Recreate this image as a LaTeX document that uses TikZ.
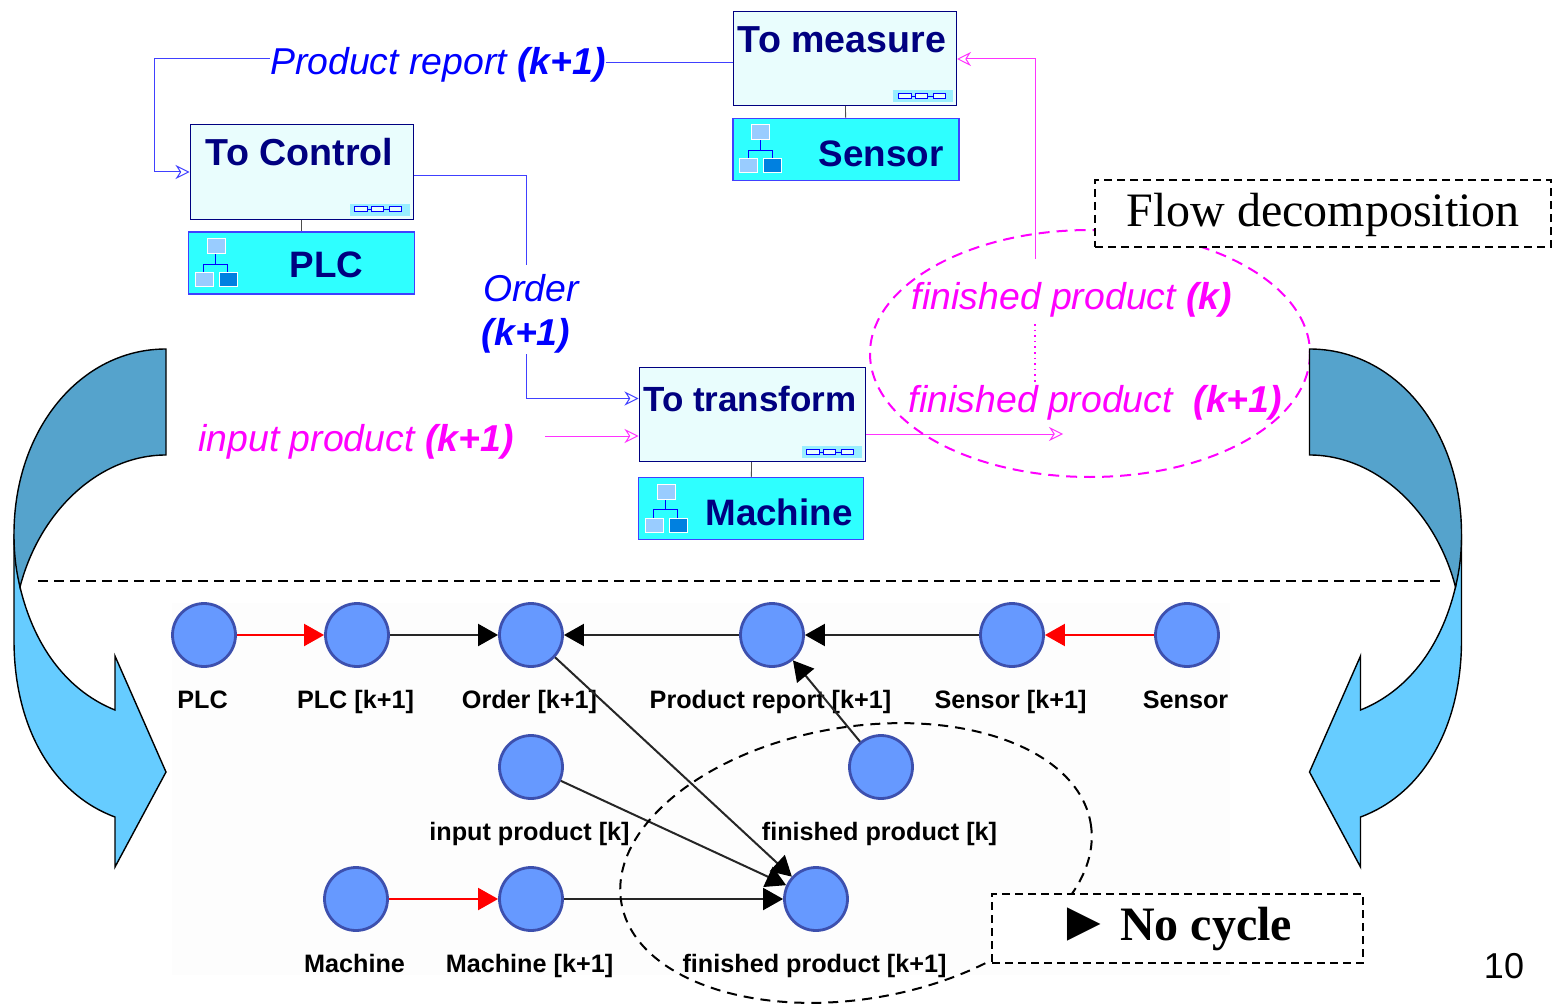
\documentclass[tikz,border=0pt]{standalone}
\usepackage{fontspec}
\setmainfont{Liberation Serif}
\setsansfont{Liberation Sans}
\usetikzlibrary{arrows.meta, positioning}
\definecolor{boxnavy}{HTML}{000080}
\definecolor{taskfill}{HTML}{E9FDFD}
\definecolor{resfill}{HTML}{2EFFFF}
\definecolor{lineblue}{HTML}{4040FF}
\definecolor{linepink}{HTML}{FF33FF}
\definecolor{fullpink}{HTML}{FF00FF}
\definecolor{vertexfill}{HTML}{6699FF}
\definecolor{vertexline}{HTML}{3D50AE}
\definecolor{arrowdark}{HTML}{55A3CC}
\definecolor{arrowlight}{HTML}{66CCFF}
\definecolor{iconlight}{HTML}{99CCFF}
\definecolor{icondark}{HTML}{0080E0}
\definecolor{badgefill}{HTML}{99EEFF}
\definecolor{graphback}{HTML}{FDFDFD}
\begin{document}
\begin{tikzpicture}[x=0.5pt, y=-0.5pt, on grid, semithick]
      \tikzstyle{taskbox}=[draw=boxnavy, line width=0.5pt, fill=taskfill, inner sep=0pt, minimum width=111.5pt, text=boxnavy, text height=20.5pt, text depth=26.5pt, font=\sffamily\bfseries\fontsize{18.8pt}{20pt}\selectfont]
      \tikzstyle{resbox}=[draw=lineblue, fill=resfill, inner sep=0pt, minimum width=113pt, text=boxnavy, text height=24pt, text depth=7pt, font=\sffamily\bfseries\fontsize{18.4pt}{20pt}\selectfont]
      \tikzstyle{link}=[draw=black!70, thin]
      \tikzstyle{blueline}=[draw=lineblue, line width=0.5pt]
      \tikzstyle{pinkline}=[draw=linepink, line width=0.5pt]
      \tikzstyle{opentip}=[-{Stealth[open, length=7pt, width=7pt]}]
      \tikzstyle{bluetext}=[text=blue, inner sep=0pt, font=\sffamily\itshape\fontsize{18.7pt}{22pt}\selectfont]
      \tikzstyle{pinktext}=[text=fullpink, inner sep=0pt, font=\sffamily\itshape\fontsize{18.7pt}{22pt}\selectfont]
      \tikzstyle{vertex}=[circle, draw=vertexline, fill=vertexfill, line width=1.4pt, minimum size=31.5pt, inner sep=0pt]
      \tikzstyle{vlabel}=[text=black, inner sep=0pt, xshift=-0.75pt, text height=10pt, text depth=1pt, font=\sffamily\bfseries\fontsize{12.6pt}{14pt}\selectfont]
      \tikzstyle{edgeblack}=[draw=black!85, line width=1pt, -{Triangle[black, length=10pt, width=11pt]}]
      \tikzstyle{edgered}=[draw=red, line width=1pt, -{Triangle[length=10pt, width=11pt]}]
      \tikzstyle{dashbox}=[draw=black, fill=white, line width=0.9pt, dash pattern=on 4pt off 2.5pt, inner sep=0pt, text height=17pt, font=\fontsize{24pt}{26pt}\selectfont]
      \tikzset{
        treeicon/.pic={
          \draw[blue, line width=0.5pt] (28,22) -- (28,33) (16,41) -- (16,33) -- (40,33) -- (40,41);
          \filldraw[draw=white, fill=iconlight, line width=0.4pt] (19,7) rectangle (37,22);
          \filldraw[draw=white, fill=iconlight, line width=0.4pt] (7,41) rectangle (25,55);
          \filldraw[draw=white, fill=icondark, line width=0.4pt] (31,41) rectangle (49,55);
        },
        chainbadge/.pic={
          \fill[badgefill] (-64,-16) rectangle (-4,-4);
          \draw[blue, line width=0.4pt] (-46,-10) -- (-12,-10);
          \filldraw[draw=blue, fill=taskfill, line width=0.4pt] (-59,-13) rectangle (-46,-8);
          \filldraw[draw=blue, fill=taskfill, line width=0.4pt] (-42,-13) rectangle (-30,-8);
          \filldraw[draw=blue, fill=taskfill, line width=0.4pt] (-24,-13) rectangle (-12,-8);
        },
        bigarrow/.pic={
          \filldraw[draw=black, fill=arrowlight, line width=0.7pt] (20,587) .. controls (35,650) and (70,692) .. (115,710) -- (115,656) -- (166,772) -- (115,867) -- (115,817) .. controls (55,795) and (14,730) .. (14,640) -- (14,534) -- cycle;
          \filldraw[draw=black, fill=arrowdark, line width=0.7pt] (166,349) .. controls (80,349) and (14,430) .. (14,534) .. controls (14,555) and (16,570) .. (20,587) .. controls (40,510) and (100,455) .. (166,455) -- cycle;
        }
      }
      \useasboundingbox (0,0) rectangle (1559,1006);
      % graph background
      \fill[graphback] (172,603) rectangle (1230,975);
      % top part
      \node[taskbox] (tomeasure) at (845,58.5) {To measure\hspace*{3pt}};
      \node[resbox] (sensorres) [below right = 45.5pt and 0.5pt of tomeasure] {\hspace*{35pt}Sensor};
      \node[taskbox] (tocontrol) at (301.5,172) {To Control\hspace*{2pt}};
      \node[resbox, text height=23pt, text depth=8pt] (plcres) [below = 45.5pt of tocontrol] {\hspace*{25pt}PLC};
      \node[taskbox, text height=22pt, text depth=25pt, minimum width=113pt, font=\sffamily\bfseries\fontsize{17.5pt}{20pt}\selectfont] (totransform) at (752,414.5) {To transform\hspace*{2pt}};
      \node[resbox, minimum width=112.5pt] (machineres) [below left = 47pt and 0.5pt of totransform] {\hspace*{28pt}Machine};
      \pic at (tomeasure.south east) {chainbadge};
      \pic at (tocontrol.south east) {chainbadge};
      \pic at (totransform.south east) {chainbadge};
      \pic at (sensorres.north west) {treeicon};
      \pic at (plcres.north west) {treeicon};
      \pic at (machineres.north west) {treeicon};
      \draw[link] (tomeasure) -- (sensorres);
      \draw[link] (tocontrol) -- (plcres);
      \draw[link] (totransform) -- (machineres);
      \node[bluetext] (report) at (438,65) {Product report \textbf{(k+1)}};
      \node[bluetext, align=center] (order) at (526,314) {\hspace*{5pt}Order\\\textbf{(k+1)}};
      \node[pinktext] (inputlabel) at (356,442) {input product \textbf{(k+1)}};
      \node[pinktext] (finishedlabel) at (1072,300) {finished product \textbf{(k)}};
      \node[pinktext] (finishednextlabel) at (1095.5,403) {finished product\ \ \textbf{(k+1)}};
      \coordinate (reportbend) at (154,172);
      \coordinate (inputstart) at (545,436);
      \coordinate (outputend) at (1063,434);
      \coordinate (pinkbend) at (1035,59);
      \coordinate (pinkstart) at (1035,259);
      \coordinate (dotstart) at (1035,324);
      \coordinate (dotend) at (1035,382);
      \draw[blueline] ([yshift=1pt]report.east) -- ([yshift=1pt]tomeasure.west |- report.east);
      \draw[blueline, opentip] ([yshift=3pt]report.west) -| (reportbend) -- (tocontrol.west);
      \draw[blueline] ([yshift=-2pt]tocontrol.east) -| ([yshift=4.5pt]order.north);
      \draw[blueline, opentip] (order.south) |- ([yshift=8pt]totransform.west);
      \draw[pinkline, opentip] (inputstart) -- (inputstart -| totransform.west);
      \draw[pinkline, opentip] (totransform.east |- outputend) -- (outputend);
      \draw[pinkline, opentip] (pinkstart) |- (pinkbend) -- (tomeasure.east |- pinkbend);
      \draw[fullpink, line width=0.8pt, dotted] (dotstart) -- (dotend);
      % flow ellipse
      \draw[fullpink, line width=1pt, dash pattern=on 5.5pt off 3.5pt] (1090,353.5) ellipse (220 and 123.5);
      \node[dashbox, text depth=3.9pt, minimum width=228pt, minimum height=33.5pt] (flowbox) at (1323,213.5) {Flow decomposition};
      % curved arrows
      \pic at (0,0) {bigarrow};
      \pic[xscale=-1] at (1475.5,0) {bigarrow};
      \draw[black, line width=0.7pt, dash pattern=on 5pt off 3pt] (38,581) -- (1440,581);
      % graph
      \node[vertex] (vplc) at (204,635) {};
      \node[vertex] (vplcnext) [right = 76.5pt of vplc] {};
      \node[vertex] (vorder) [right = 87pt of vplcnext] {};
      \node[vertex] (vreport) [right = 120.5pt of vorder] {};
      \node[vertex] (vsensornext) [right = 120pt of vreport] {};
      \node[vertex] (vsensor) [right = 87.5pt of vsensornext] {};
      \node[vertex] (vinput) [below = 66pt of vorder] {};
      \node[vertex] (vfinished) [below right = 66pt and 54.5pt of vreport] {};
      \node[vertex] (vmachinenext) [below = 66pt of vinput] {};
      \node[vertex] (vmachine) [left = 87.5pt of vmachinenext] {};
      \node[vertex] (vfinishednext) [right = 142.5pt of vmachinenext] {};
      \node[vlabel] (lplc) [below = 32pt of vplc] {PLC};
      \node[vlabel] (lplcnext) [below = 32pt of vplcnext] {PLC [k+1]};
      \node[vlabel] (lorder) [below = 32pt of vorder] {Order [k+1]};
      \node[vlabel] (lreport) [below = 32pt of vreport] {Product report [k+1]};
      \node[vlabel] (lsensornext) [below = 32pt of vsensornext] {Sensor [k+1]};
      \node[vlabel] (lsensor) [below = 32pt of vsensor] {Sensor};
      \node[vlabel] (linput) [below = 32pt of vinput] {input product [k]};
      \node[vlabel] (lfinished) [below = 32pt of vfinished] {finished product [k]};
      \node[vlabel] (lmachine) [below = 32pt of vmachine] {Machine};
      \node[vlabel] (lmachinenext) [below = 32pt of vmachinenext] {Machine [k+1]};
      \node[vlabel] (lfinishednext) [below = 32pt of vfinishednext] {finished product [k+1]};
      \draw[edgered] (vplc) -- (vplcnext);
      \draw[edgeblack] (vplcnext) -- (vorder);
      \draw[edgeblack] (vreport) -- (vorder);
      \draw[edgeblack] (vsensornext) -- (vreport);
      \draw[edgered] (vsensor) -- (vsensornext);
      \draw[edgeblack] (vfinished) -- (vreport);
      \draw[edgeblack] (vorder) -- (vfinishednext);
      \draw[edgeblack] (vinput) -- (vfinishednext);
      \draw[edgeblack] (vmachinenext) -- (vfinishednext);
      \draw[edgered] (vmachine) -- (vmachinenext);
      % no cycle ellipse
      \draw[black, line width=1pt, dash pattern=on 5pt off 3.5pt, rotate around={9.6:(856,863)}] (856,863) ellipse (238 and 136);
      \node[dashbox, text depth=5.5pt, minimum width=185.5pt, minimum height=34.5pt, font=\bfseries\fontsize{24pt}{26pt}\selectfont] (nocycle) at (1177.5,928.5) {{\fontsize{28pt}{26pt}\selectfont ►}\hspace{-2pt} No cycle\hspace*{3pt}};
      \node[inner sep=0pt, font=\sffamily\fontsize{18pt}{20pt}\selectfont] (pagenum) at (1504,966) {10};
    \end{tikzpicture}
\end{document}
